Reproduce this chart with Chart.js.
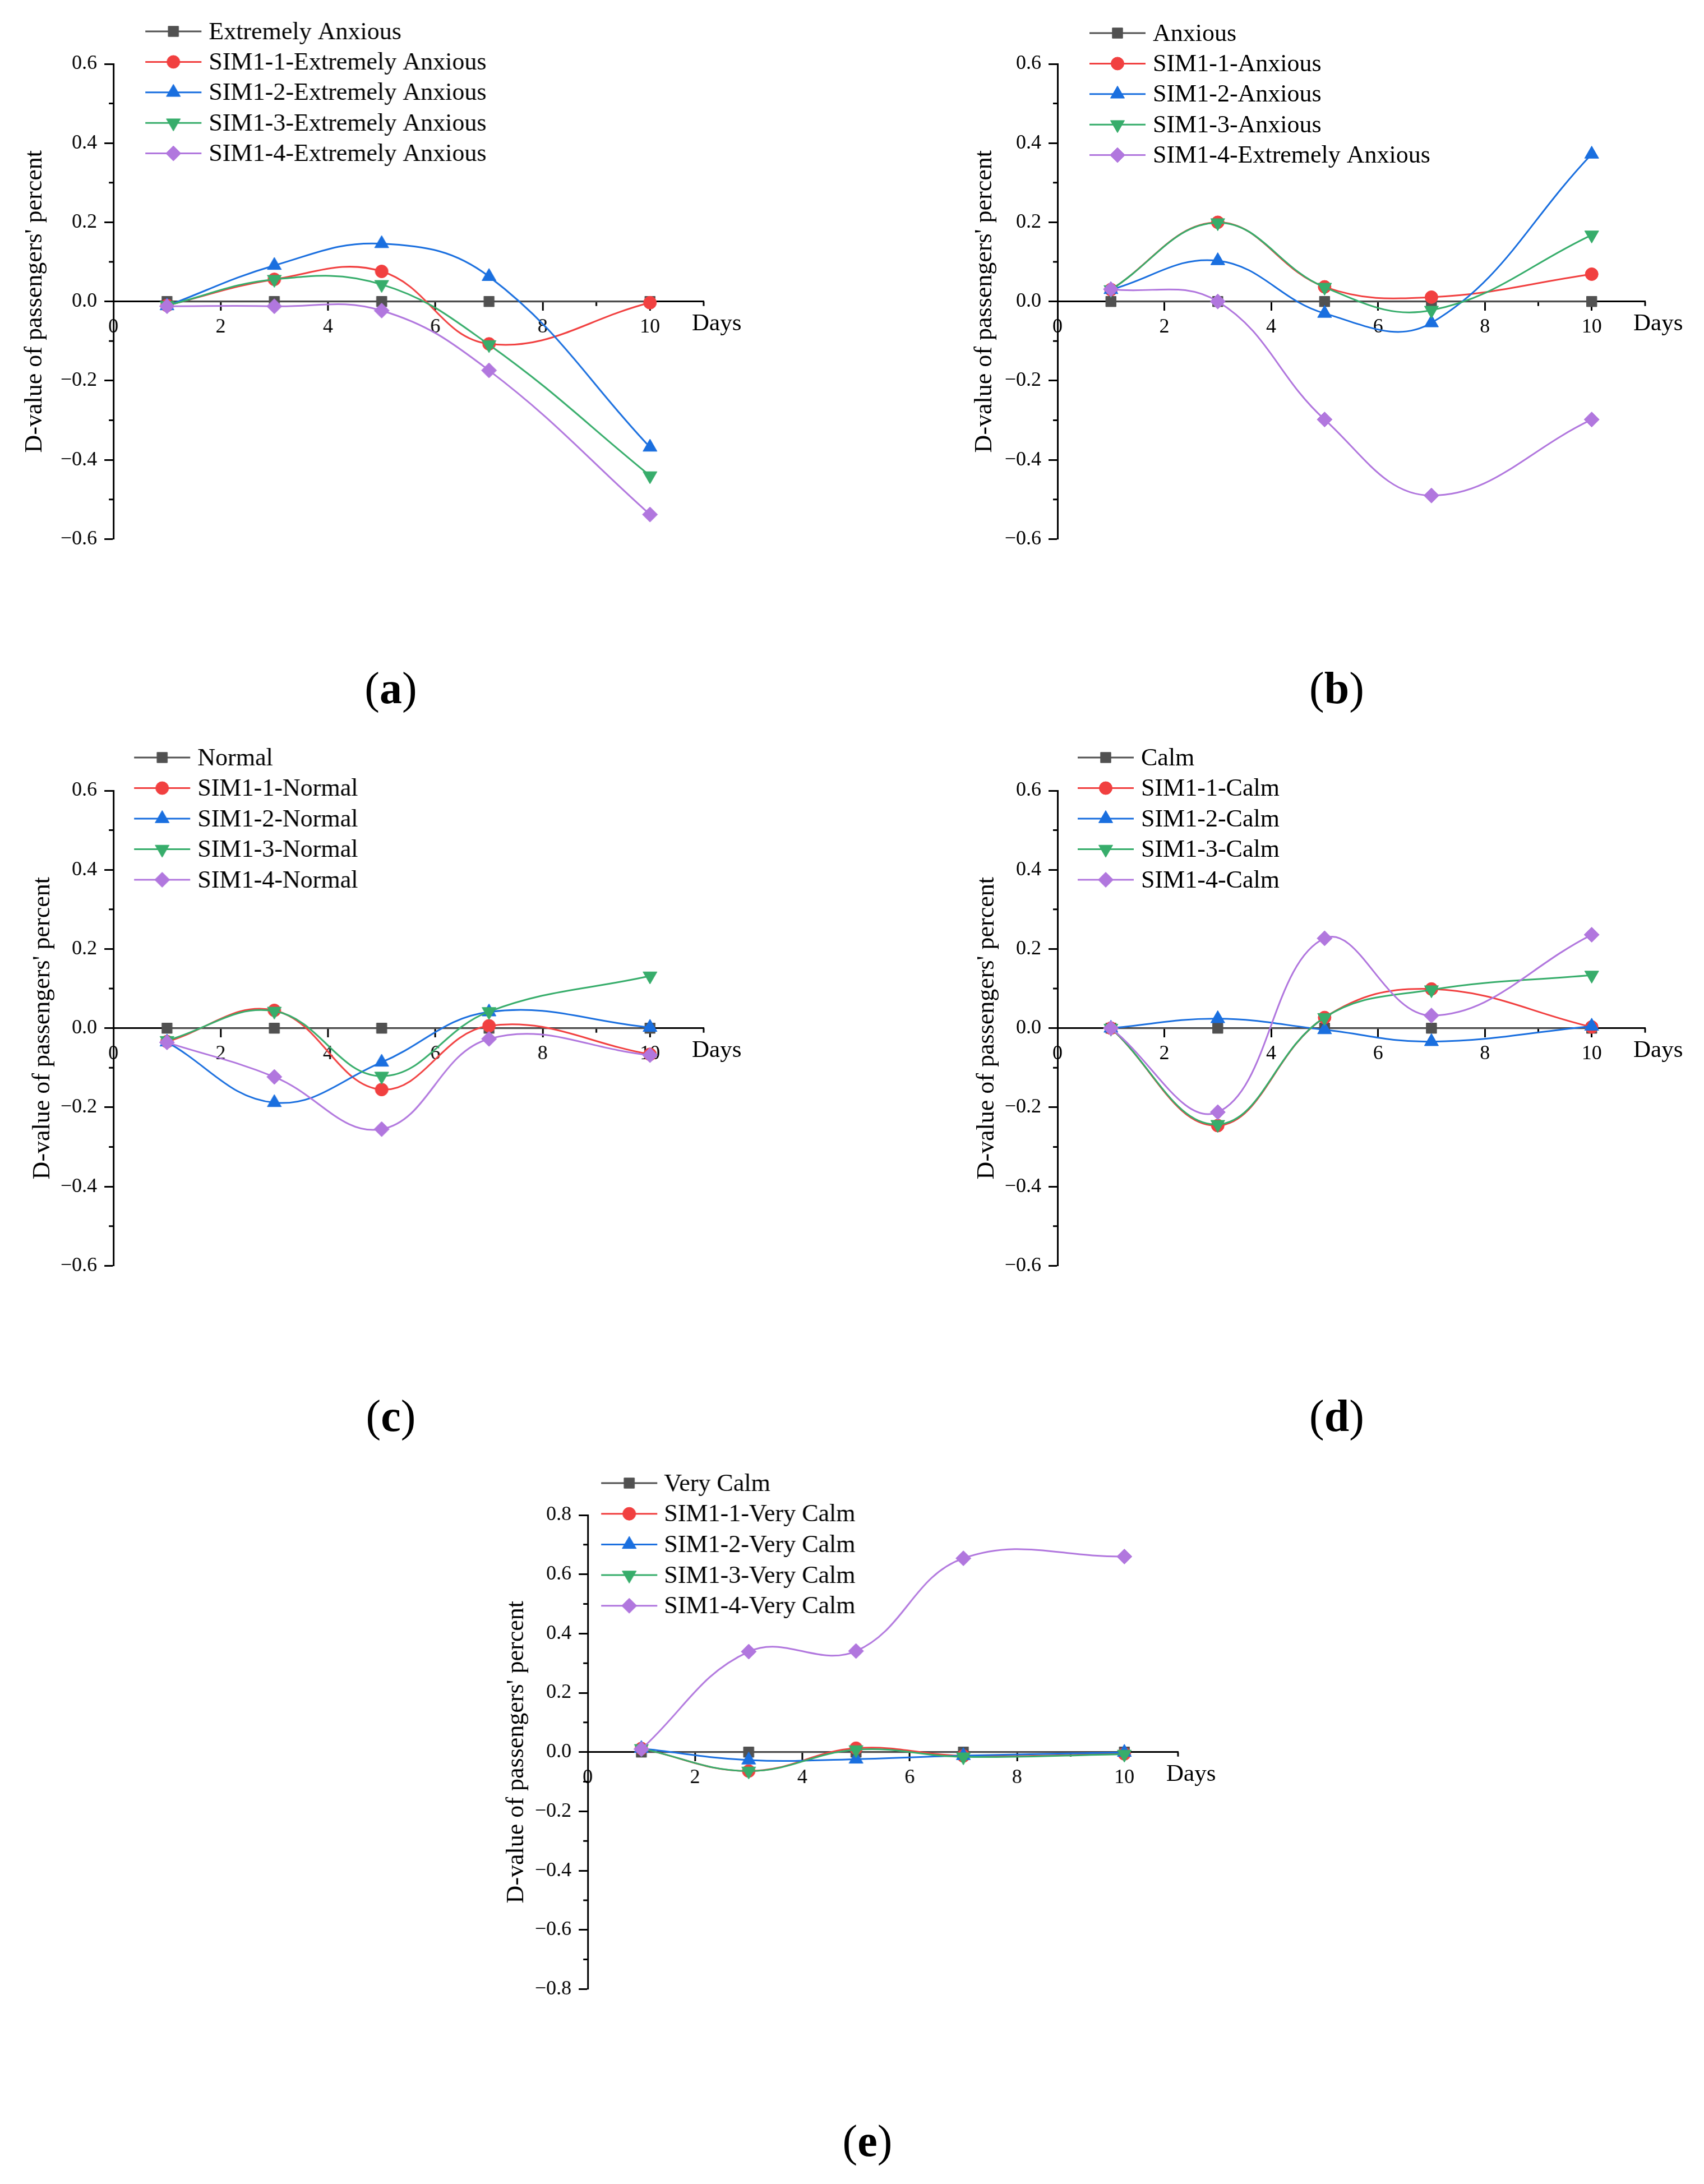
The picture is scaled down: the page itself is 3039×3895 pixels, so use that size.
<!DOCTYPE html>
<html>
<head>
<meta charset="utf-8">
<script src="https://cdn.jsdelivr.net/npm/chart.js@4.4.1/dist/chart.umd.min.js"></script>
<style>
  html, body { margin: 0; padding: 0; background: #fff; }
  body { width: 3039px; height: 3895px; position: relative; overflow: hidden; }
  canvas { position: absolute; }
  .tag { position: absolute; font-family: 'Liberation Serif', 'Times New Roman', serif; font-size: 80px; line-height: 1; transform: translate(-50%, -50%); color: #000; white-space: nowrap; }
</style>
</head>
<body>
<canvas id="chartA"></canvas>
<canvas id="chartB"></canvas>
<canvas id="chartC"></canvas>
<canvas id="chartD"></canvas>
<canvas id="chartE"></canvas>
<div class="tag" style="left:697px;top:1227px">(<b>a</b>)</div>
<div class="tag" style="left:2384px;top:1227px">(<b>b</b>)</div>
<div class="tag" style="left:697px;top:2525px">(<b>c</b>)</div>
<div class="tag" style="left:2384px;top:2525px">(<b>d</b>)</div>
<div class="tag" style="left:1547px;top:3818px">(<b>e</b>)</div>
<script>
// x positions (days) and axis ticks
const days = [1, 3, 5, 7, 10];
const dayTicks = [0, 2, 4, 6, 8, 10];
const dValueTicks = [-0.6, -0.4, -0.2, 0, 0.2, 0.4, 0.6];
const dValueTicksWide = [-0.8, -0.6, -0.4, -0.2, 0, 0.2, 0.4, 0.6, 0.8];

// (a) Extremely Anxious
const extremelyNames = ['Extremely Anxious', 'SIM1-1-Extremely Anxious', 'SIM1-2-Extremely Anxious', 'SIM1-3-Extremely Anxious', 'SIM1-4-Extremely Anxious'];
const extremelyBase = [0, 0, 0, 0, 0];
const extremelySim1 = [-0.01, 0.056, 0.076, -0.107, -0.003];
const extremelySim2 = [-0.011, 0.091, 0.146, 0.063, -0.368];
const extremelySim3 = [-0.01, 0.056, 0.043, -0.109, -0.44];
const extremelySim4 = [-0.012, -0.012, -0.023, -0.174, -0.538];

// (b) Anxious
const anxiousNames = ['Anxious', 'SIM1-1-Anxious', 'SIM1-2-Anxious', 'SIM1-3-Anxious', 'SIM1-4-Extremely Anxious'];
const anxiousBase = [0, 0, 0, 0, 0];
const anxiousSim1 = [0.03, 0.2, 0.037, 0.011, 0.069];
const anxiousSim2 = [0.03, 0.103, -0.03, -0.054, 0.372];
const anxiousSim3 = [0.03, 0.199, 0.036, -0.022, 0.168];
const anxiousSim4 = [0.031, 0.0, -0.298, -0.49, -0.298];

// (c) Normal
const normalNames = ['Normal', 'SIM1-1-Normal', 'SIM1-2-Normal', 'SIM1-3-Normal', 'SIM1-4-Normal'];
const normalBase = [0, 0, 0, 0, 0];
const normalSim1 = [-0.034, 0.045, -0.155, 0.006, -0.066];
const normalSim2 = [-0.035, -0.188, -0.086, 0.041, 0.002];
const normalSim3 = [-0.031, 0.043, -0.121, 0.042, 0.132];
const normalSim4 = [-0.036, -0.123, -0.255, -0.027, -0.068];

// (d) Calm
const calmNames = ['Calm', 'SIM1-1-Calm', 'SIM1-2-Calm', 'SIM1-3-Calm', 'SIM1-4-Calm'];
const calmBase = [0, 0, 0, 0, 0];
const calmSim1 = [0, -0.246, 0.027, 0.099, 0.003];
const calmSim2 = [0, 0.024, -0.004, -0.034, 0.005];
const calmSim3 = [0, -0.243, 0.027, 0.097, 0.134];
const calmSim4 = [0, -0.212, 0.227, 0.032, 0.236];

// (e) Very Calm
const veryCalmNames = ['Very Calm', 'SIM1-1-Very Calm', 'SIM1-2-Very Calm', 'SIM1-3-Very Calm', 'SIM1-4-Very Calm'];
const veryCalmBase = [0, 0, 0, 0, 0];
const veryCalmSim1 = [0.012, -0.064, 0.013, -0.013, -0.006];
const veryCalmSim2 = [0.012, -0.027, -0.024, -0.012, -0.001];
const veryCalmSim3 = [0.012, -0.064, 0.008, -0.016, -0.007];
const veryCalmSim4 = [0.01, 0.339, 0.341, 0.654, 0.66];

const serif = "'Liberation Serif', 'Times New Roman', serif";
Chart.defaults.font.family = serif;
Chart.defaults.color = '#000';

// line colour and marker per series (base, SIM1-1 .. SIM1-4)
const lineStyles = [
    { color: '#515151', pointStyle: 'rect', radius: 13, rotation: 0 },
    { color: '#F14040', pointStyle: 'circle', radius: 11.5, rotation: 0 },
    { color: '#1A6FDF', pointStyle: 'triangle', radius: 14.5, rotation: 0 },
    { color: '#37AD6B', pointStyle: 'triangle', radius: 14.5, rotation: 180 },
    { color: '#B177DE', pointStyle: 'rectRot', radius: 13.5, rotation: 0 }
];

const Y_AXIS_W = 180;
const PAD = { left: 0, top: 114, right: 100, bottom: 30 };

// minor ticks, legend and the "Days" label
const decor = {
    id: 'decor',
    beforeDatasetsDraw(chart, args, opts) {
        const ctx = chart.ctx;
        const xs = chart.scales.x, ys = chart.scales.y;
        const y0 = ys.getPixelForValue(0);
        const left = chart.chartArea.left;
        ctx.save();
        ctx.strokeStyle = '#000';
        ctx.lineWidth = 3;
        ctx.beginPath();
        for (let v = 1; v <= xs.max; v += 2) {
            const px = xs.getPixelForValue(v);
            ctx.moveTo(px, y0);
            ctx.lineTo(px, y0 + 8);
        }
        for (let k = Math.round(ys.min * 10); k <= Math.round(ys.max * 10); k++) {
            if (k % 2 === 0) continue;
            const py = ys.getPixelForValue(k / 10);
            ctx.moveTo(left, py);
            ctx.lineTo(left - 8, py);
        }
        ctx.stroke();
        ctx.restore();
    },
    afterDraw(chart, args, opts) {
        const ctx = chart.ctx;
        const area = chart.chartArea;
        ctx.save();
        chart.data.datasets.forEach((ds, i) => {
            const y = area.top + opts.legendTop + i * opts.legendGap;
            const cx = area.left + opts.legendMarker;
            ctx.strokeStyle = ds.borderColor;
            ctx.lineWidth = 3;
            ctx.beginPath();
            ctx.moveTo(cx - 50, y);
            ctx.lineTo(cx + 50, y);
            ctx.stroke();
            ctx.fillStyle = ds.backgroundColor;
            ctx.lineWidth = 1;
            Chart.helpers.drawPoint(ctx, {
                pointStyle: ds.pointStyle,
                rotation: ds.pointRotation,
                radius: ds.pointRadius,
                borderWidth: 1
            }, cx, y);
            ctx.fillStyle = '#000';
            ctx.font = '44px ' + serif;
            ctx.textAlign = 'left';
            ctx.textBaseline = 'middle';
            ctx.fillText(ds.label, area.left + opts.legendText, y + 2);
        });
        ctx.font = '43px ' + serif;
        ctx.fillStyle = '#000';
        ctx.textAlign = 'left';
        ctx.textBaseline = 'middle';
        ctx.fillText('Days', area.right - 21, chart.scales.y.getPixelForValue(0) + 40);
        ctx.restore();
    }
};

function makePanel(p) {
    const canvas = document.getElementById(p.id);
    const plotW = 11 * p.dayPx;
    const plotH = p.axisBottom - p.axisTop;
    const w = Y_AXIS_W + plotW + PAD.right;
    const h = PAD.top + plotH + PAD.bottom;
    canvas.width = w;
    canvas.height = h;
    canvas.style.width = w + 'px';
    canvas.style.height = h + 'px';
    canvas.style.left = (p.axisX - Y_AXIS_W) + 'px';
    canvas.style.top = (p.axisTop - PAD.top) + 'px';

    const datasets = p.series.map((vals, i) => ({
        label: p.names[i],
        data: days.map((d, j) => ({ x: d, y: vals[j] })),
        borderColor: lineStyles[i].color,
        backgroundColor: lineStyles[i].color,
        borderWidth: 3,
        pointStyle: lineStyles[i].pointStyle,
        pointRadius: lineStyles[i].radius,
        pointRotation: lineStyles[i].rotation,
        pointBorderWidth: 1,
        tension: 0.4,
        order: 4 - i
    }));

    const yMax = p.yTicks[p.yTicks.length - 1];
    const titleCenter = Y_AXIS_W + p.titleShift;

    return new Chart(canvas, {
        type: 'line',
        data: { datasets: datasets },
        options: {
            responsive: false,
            animation: false,
            devicePixelRatio: 1,
            events: [],
            layout: { padding: PAD },
            plugins: {
                legend: { display: false },
                tooltip: { enabled: false },
                decor: {
                    legendTop: p.legendTop,
                    legendGap: p.legendGap,
                    legendMarker: p.legendMarker,
                    legendText: p.legendText
                }
            },
            scales: {
                x: {
                    type: 'linear',
                    position: { y: 0 },
                    min: 0,
                    max: 11,
                    border: { display: true, color: '#000', width: 3 },
                    grid: {
                        drawOnChartArea: false,
                        drawTicks: true,
                        tickLength: 15,
                        tickWidth: 3,
                        tickColor: c => (c.tick && dayTicks.includes(c.tick.value)) ? '#000' : 'rgba(0,0,0,0)'
                    },
                    ticks: {
                        stepSize: 1,
                        autoSkip: false,
                        maxRotation: 0,
                        padding: 9,
                        font: { size: 36 },
                        color: '#000',
                        callback: v => dayTicks.includes(v) ? String(v) : ''
                    }
                },
                y: {
                    type: 'linear',
                    position: 'left',
                    min: -yMax,
                    max: yMax,
                    afterFit: s => { s.width = Y_AXIS_W; },
                    border: { display: true, color: '#000', width: 3 },
                    grid: {
                        drawOnChartArea: false,
                        drawTicks: true,
                        tickLength: 16,
                        tickWidth: 3,
                        tickColor: c => (c.tick && Math.round(c.tick.value * 10) % 2 === 0) ? '#000' : 'rgba(0,0,0,0)'
                    },
                    ticks: {
                        stepSize: 0.1,
                        autoSkip: false,
                        padding: 13,
                        font: { size: 36 },
                        color: '#000',
                        callback: v => {
                            const hit = p.yTicks.find(t => Math.abs(t - v) < 1e-6);
                            if (hit === undefined) return '';
                            if (hit === 0) return '0.0';
                            return (hit < 0 ? '\u2212' : '') + Math.abs(hit).toFixed(1);
                        }
                    },
                    title: {
                        display: true,
                        text: "D-value of passengers' percent",
                        color: '#000',
                        font: { size: 44, lineHeight: 1.2 },
                        padding: { top: titleCenter - 26.4, bottom: 0 }
                    }
                }
            }
        },
        plugins: [decor]
    });
}

const panels = [
    { id: 'chartA', axisX: 202, axisTop: 114, axisBottom: 966, dayPx: 95.7, yTicks: dValueTicks,
      legendTop: -58, legendGap: 54.4, legendMarker: 107, legendText: 170, titleShift: -139.5,
      names: extremelyNames, series: [extremelyBase, extremelySim1, extremelySim2, extremelySim3, extremelySim4] },
    { id: 'chartB', axisX: 1886, axisTop: 114, axisBottom: 966, dayPx: 95.3, yTicks: dValueTicks,
      legendTop: -55, legendGap: 54.4, legendMarker: 107, legendText: 170, titleShift: -130,
      names: anxiousNames, series: [anxiousBase, anxiousSim1, anxiousSim2, anxiousSim3, anxiousSim4] },
    { id: 'chartC', axisX: 202, axisTop: 1410, axisBottom: 2262, dayPx: 95.7, yTicks: dValueTicks,
      legendTop: -59, legendGap: 54.5, legendMarker: 87, legendText: 150, titleShift: -126,
      names: normalNames, series: [normalBase, normalSim1, normalSim2, normalSim3, normalSim4] },
    { id: 'chartD', axisX: 1886, axisTop: 1410, axisBottom: 2262, dayPx: 95.3, yTicks: dValueTicks,
      legendTop: -59, legendGap: 54.5, legendMarker: 86, legendText: 149, titleShift: -126,
      names: calmNames, series: [calmBase, calmSim1, calmSim2, calmSim3, calmSim4] },
    { id: 'chartE', axisX: 1048, axisTop: 2702, axisBottom: 3552, dayPx: 95.7, yTicks: dValueTicksWide,
      legendTop: -57, legendGap: 54.7, legendMarker: 74, legendText: 136, titleShift: -127,
      names: veryCalmNames, series: [veryCalmBase, veryCalmSim1, veryCalmSim2, veryCalmSim3, veryCalmSim4] }
];

panels.forEach(makePanel);
</script>
</body>
</html>
